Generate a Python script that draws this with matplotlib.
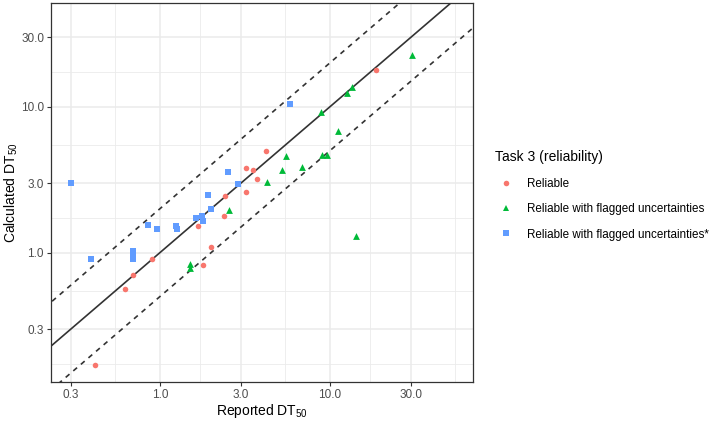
import matplotlib
matplotlib.use('Agg')
import matplotlib.pyplot as plt
from matplotlib.lines import Line2D
import numpy as np

plt.rcParams['font.family'] = ['Liberation Sans', 'DejaVu Sans']
plt.rcParams['mathtext.default'] = 'regular'

# reported / calculated DT50
reliable_x = [0.417, 0.625, 0.70, 0.90, 1.68, 1.80, 2.0, 2.4, 2.41, 3.22, 3.51, 3.72, 3.22, 4.22, 18.6]
reliable_y = [0.17, 0.56, 0.70, 0.90, 1.53, 0.83, 1.1, 1.78, 2.43, 3.82, 3.67, 3.21, 2.6, 5.0, 17.8]

flagged_x = [1.5, 1.5, 2.54, 4.3, 5.22, 5.51, 6.84, 8.93, 9.04, 9.6, 11.1, 12.7, 13.5, 14.2, 30.5]
flagged_y = [0.84, 0.78, 1.96, 3.06, 3.7, 4.6, 3.85, 9.16, 4.65, 4.65, 6.85, 12.4, 13.7, 1.31, 22.8]

star_x = [0.3, 0.394, 0.70, 0.70, 0.70, 0.85, 0.96, 1.24, 1.26, 1.64, 1.77, 1.80, 1.99, 1.93, 2.51, 2.9, 5.87]
star_y = [3.0, 0.90, 1.02, 0.96, 0.91, 1.54, 1.45, 1.52, 1.45, 1.72, 1.78, 1.65, 2.0, 2.5, 3.55, 2.97, 10.5]

major_ticks = [0.3, 1.0, 3.0, 10.0, 30.0]
tick_labels = ['0.3', '1.0', '3.0', '10.0', '30.0']
all_breaks = [0.1, 0.3, 1.0, 3.0, 10.0, 30.0, 100.0]

fig = plt.figure(figsize=(7.09, 4.22), dpi=100)
ax = fig.add_axes([0.0719, 0.0948, 0.595, 0.898])
ax.set_xscale('log')
ax.set_yscale('log')

# minor grid halfway (in log) between major breaks
minor = [np.sqrt(a * b) for a, b in zip(all_breaks[:-1], all_breaks[1:])]
for m in minor:
    ax.axvline(m, color='#ebebeb', lw=0.6, zorder=0)
    ax.axhline(m, color='#ebebeb', lw=0.6, zorder=0)
for t in major_ticks:
    ax.axvline(t, color='#ebebeb', lw=1.1, zorder=0)
    ax.axhline(t, color='#ebebeb', lw=1.1, zorder=0)

# 1:1 line and factor-2 lines
xx = np.array([0.05, 200])
ax.plot(xx, xx, color='#333333', lw=1.2, zorder=1)
ax.plot(xx, 2 * xx, color='#333333', lw=1.2, ls=(0, (3, 3)), zorder=1)
ax.plot(xx, xx / 2, color='#333333', lw=1.2, ls=(0, (3, 3)), zorder=1)

ax.scatter(reliable_x, reliable_y, marker='o', s=16, color='#F8766D', lw=0, zorder=3)
ax.scatter(flagged_x, flagged_y, marker='^', s=24, color='#00BA38', lw=0, zorder=3)
ax.scatter(star_x, star_y, marker='s', s=16, color='#619CFF', lw=0, zorder=3)

ax.set_xlim(0.229, 69.4)
ax.set_ylim(0.13, 51.5)
ax.set_xticks(major_ticks)
ax.set_xticklabels(tick_labels)
ax.set_yticks(major_ticks)
ax.set_yticklabels(tick_labels)
ax.minorticks_off()
ax.tick_params(colors='#333333', labelcolor='#4d4d4d', labelsize=8.5, length=3, width=0.8, pad=2)
for s in ax.spines.values():
    s.set_color('#333333')
    s.set_linewidth(0.9)

ax.set_xlabel('Reported DT$_{50}$', fontsize=10, labelpad=1)
ax.set_ylabel('Calculated DT$_{50}$', fontsize=10, labelpad=1)

handles = [
    Line2D([], [], marker='o', ls='', color='#F8766D', markersize=4, markeredgewidth=0),
    Line2D([], [], marker='^', ls='', color='#00BA38', markersize=5, markeredgewidth=0),
    Line2D([], [], marker='s', ls='', color='#619CFF', markersize=4, markeredgewidth=0),
]
labels = ['Reliable', 'Reliable with flagged uncertainties', 'Reliable with flagged uncertainties*']
leg = fig.legend(handles, labels, title='Task 3 (reliability)', loc='upper left',
                 bbox_to_anchor=(0.692, 0.655), frameon=False, fontsize=8.4,
                 title_fontsize=10, labelspacing=1.15, handletextpad=0.8,
                 handlelength=1.9, borderaxespad=0)
leg._legend_box.align = 'left'

fig.savefig('out.png', dpi=100)
